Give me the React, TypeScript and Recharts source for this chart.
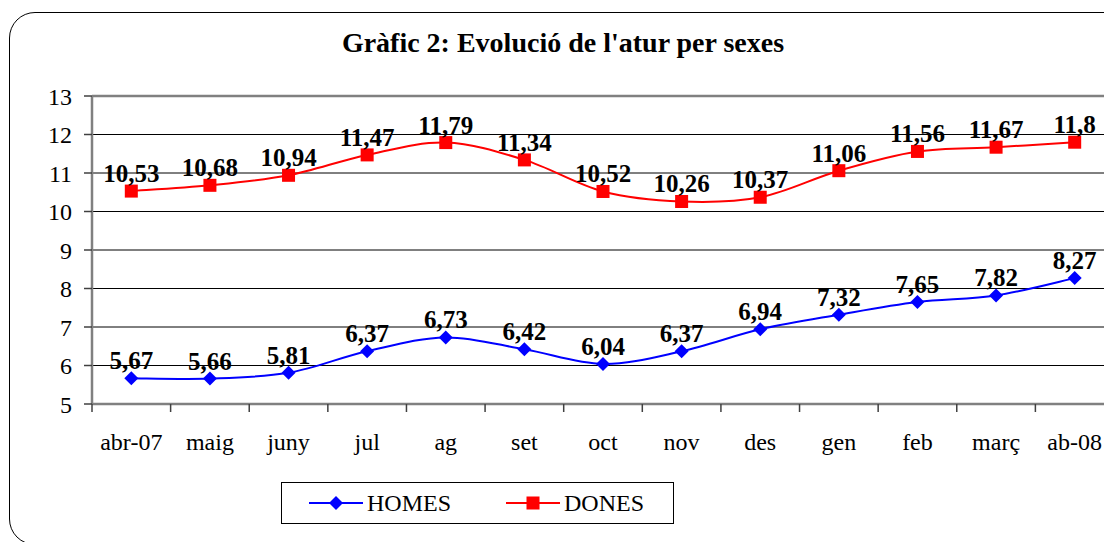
import { CartesianGrid, Legend, LabelList, Line, LineChart, ReferenceLine, XAxis, YAxis } from "recharts";

const months = ["abr-07", "maig", "juny", "jul", "ag", "set", "oct", "nov", "des", "gen", "feb", "març", "ab-08"];
const homes = [5.67, 5.66, 5.81, 6.37, 6.73, 6.42, 6.04, 6.37, 6.94, 7.32, 7.65, 7.82, 8.27];
const dones = [10.53, 10.68, 10.94, 11.47, 11.79, 11.34, 10.52, 10.26, 10.37, 11.06, 11.56, 11.67, 11.8];
const yTicks = [5, 6, 7, 8, 9, 10, 11, 12, 13];

const data = months.map((m, i) => ({ name: m, HOMES: homes[i], DONES: dones[i] }));

const FONT = "'Liberation Serif', 'Times New Roman', serif";
const CHART_W = 1130;
const X_H = 60;
const MARGIN = { top: 96, right: 16, bottom: 138 - X_H, left: 0 };
const Y_W = 92;
const band = (CHART_W - MARGIN.left - MARGIN.right - Y_W) / months.length;

// Excel-like smoothing (Catmull-Rom through every point)
const smooth = (context: any) => {
  let pts: [number, number][] = [];
  return {
    areaStart() {},
    areaEnd() {},
    lineStart() {
      pts = [];
    },
    point(x: number, y: number) {
      pts.push([+x, +y]);
    },
    lineEnd() {
      if (!pts.length) return;
      context.moveTo(pts[0][0], pts[0][1]);
      for (let i = 0; i < pts.length - 1; i++) {
        const p0 = pts[i - 1] || pts[i];
        const p1 = pts[i];
        const p2 = pts[i + 1];
        const p3 = pts[i + 2] || p2;
        context.bezierCurveTo(
          p1[0] + (p2[0] - p0[0]) / 6,
          p1[1] + (p2[1] - p0[1]) / 6,
          p2[0] - (p3[0] - p1[0]) / 6,
          p2[1] - (p3[1] - p1[1]) / 6,
          p2[0],
          p2[1]
        );
      }
    },
  };
};

const fmt = (v: any) => String(v).replace(".", ",");

const Diamond = ({ cx, cy }: any) => (
  <path d={`M${cx},${cy - 7} L${cx + 7},${cy} L${cx},${cy + 7} L${cx - 7},${cy} Z`} fill="#0000FF" />
);

const Square = ({ cx, cy }: any) => <rect x={cx - 6.5} y={cy - 6.5} width={13} height={13} fill="#FF0000" />;

const ValueLabel = ({ x, y, value }: any) => (
  <text x={x} y={y - 9} textAnchor="middle" fontFamily={FONT} fontSize={25} fontWeight="bold" fill="#000">
    {fmt(value)}
  </text>
);

const MonthTick = ({ x, y, payload }: any) => (
  <g>
    <line x1={x - band / 2} y1={y - 8} x2={x - band / 2} y2={y} stroke="#404040" strokeWidth={1.5} />
    <text x={x} y={y + 38} textAnchor="middle" fontFamily={FONT} fontSize={24} fill="#000">
      {payload.value}
    </text>
  </g>
);

const LegendBox = () => (
  <div
    style={{
      boxSizing: "border-box",
      width: 393,
      height: 42,
      border: "1.5px solid #000",
      display: "flex",
      alignItems: "center",
      fontFamily: FONT,
      fontSize: 24,
      color: "#000",
    }}
  >
    <svg width={54} height={20} style={{ marginLeft: 27 }}>
      <line x1={0} y1={10} x2={54} y2={10} stroke="#0000FF" strokeWidth={2} />
      <path d="M27,3 L34,10 L27,17 L20,10 Z" fill="#0000FF" />
    </svg>
    <span style={{ marginLeft: 4 }}>HOMES</span>
    <svg width={54} height={20} style={{ marginLeft: 55 }}>
      <line x1={0} y1={10} x2={54} y2={10} stroke="#FF0000" strokeWidth={2} />
      <rect x={20.5} y={3.5} width={13} height={13} fill="#FF0000" />
    </svg>
    <span style={{ marginLeft: 4 }}>DONES</span>
  </div>
);

export default function App() {
  return (
    <div style={{ position: "absolute", left: 0, top: 0, width: 1104, height: 542, overflow: "hidden", background: "#fff" }}>
      <div
        style={{
          position: "absolute",
          left: 9,
          top: 12,
          width: 1130,
          height: 533,
          border: "1.5px solid #000",
          borderRadius: 26,
          boxSizing: "border-box",
        }}
      />
      <div
        style={{
          position: "absolute",
          left: 0,
          top: 29,
          width: 1126,
          textAlign: "center",
          fontFamily: FONT,
          fontWeight: "bold",
          fontSize: 28,
          lineHeight: "28px",
          whiteSpace: "nowrap",
        }}
      >
        Gràfic 2: Evolució de l'atur per sexes
      </div>
      <div style={{ position: "absolute", left: 0, top: 0 }}>
        <LineChart width={CHART_W} height={542} data={data} margin={MARGIN}>
          <CartesianGrid horizontal vertical={false} stroke="#000" strokeWidth={1} />
          <ReferenceLine y={13} stroke="#808080" strokeWidth={2.5} />
          <XAxis
            dataKey="name"
            axisLine={{ stroke: "#808080", strokeWidth: 2.5 }}
            tickLine={false}
            tickSize={8}
            tickMargin={0}
            height={X_H}
            interval={0}
            padding={{ left: band / 2, right: band / 2 }}
            tick={<MonthTick />}
          />
          <YAxis
            type="number"
            domain={[5, 13]}
            ticks={yTicks}
            width={Y_W}
            interval={0}
            axisLine={{ stroke: "#808080", strokeWidth: 2.5 }}
            tickLine={{ stroke: "#404040", strokeWidth: 1.5 }}
            tickSize={8}
            tickMargin={12}
            tick={{ fontFamily: FONT, fontSize: 24, fill: "#000" }}
          />
          <Legend
            layout="vertical"
            align="center"
            verticalAlign="middle"
            wrapperStyle={{ left: 281, top: 482, width: 393, height: 42 }}
            content={() => <LegendBox />}
          />
          <Line
            dataKey="HOMES"
            type={smooth as any}
            stroke="#0000FF"
            strokeWidth={2}
            dot={<Diamond />}
            activeDot={false}
            isAnimationActive={false}
          >
            <LabelList dataKey="HOMES" content={<ValueLabel />} />
          </Line>
          <Line
            dataKey="DONES"
            type={smooth as any}
            stroke="#FF0000"
            strokeWidth={2}
            dot={<Square />}
            activeDot={false}
            isAnimationActive={false}
          >
            <LabelList dataKey="DONES" content={<ValueLabel />} />
          </Line>
        </LineChart>
      </div>
    </div>
  );
}
